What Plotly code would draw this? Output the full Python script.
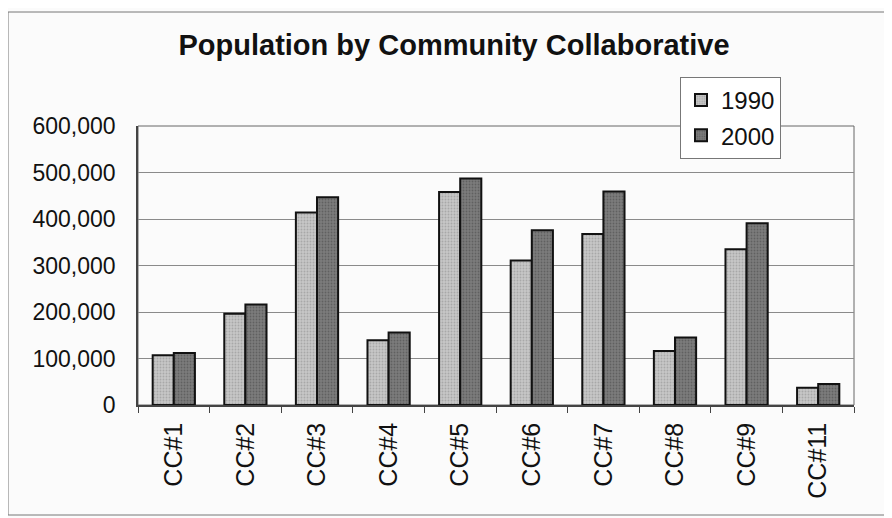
import plotly.graph_objects as go

categories = ["CC#1", "CC#2", "CC#3", "CC#4", "CC#5", "CC#6", "CC#7", "CC#8", "CC#9", "CC#11"]
pop_1990 = [107000, 196000, 414000, 139000, 458000, 311000, 368000, 116000, 335000, 37000]
pop_2000 = [112000, 216000, 447000, 156000, 487000, 376000, 459000, 145000, 391000, 45000]
y_ticks = [0, 100000, 200000, 300000, 400000, 500000, 600000]

FONT = "Liberation Sans, Arial, sans-serif"

# page body has an 8px default margin; plot area target: x 138..854, y 126..405
L, T = 130, 118
PW, PH = 716, 279

fig = go.Figure()
fig.add_trace(go.Bar(
    x=categories, y=pop_1990, name="1990", legendgroup="a",
    marker=dict(color="#c6c6c6", line=dict(color="#111111", width=2),
                pattern=dict(shape=".", fgcolor="#8a8a8a", size=3, solidity=0.3)),
))
fig.add_trace(go.Bar(
    x=categories, y=pop_2000, name="2000", legendgroup="b",
    marker=dict(color="#7c7c7c", line=dict(color="#111111", width=2),
                pattern=dict(shape=".", fgcolor="#444444", size=3, solidity=0.3)),
))

fig.update_layout(
    width=892, height=518,
    margin=dict(l=L, r=892 - L - PW, t=T, b=518 - T - PH),
    paper_bgcolor="#fbfbfb",
    plot_bgcolor="#fbfbfb",
    barmode="group",
    bargap=0.41,
    bargroupgap=0.0,
    showlegend=True,
    font=dict(family=FONT, color="#111111"),
    title=dict(
        text="<b>Population by Community Collaborative</b>",
        font=dict(family=FONT, size=29, color="#111111"),
        x=(454 - 138) / PW, xanchor="center", xref="paper",
        y=1 - 37 / 518, yanchor="middle", yref="container",
    ),
    legend=dict(
        x=(680 - 138) / PW, xanchor="left", y=(405 - 77) / PH, yanchor="top",
        bgcolor="#ffffff", bordercolor="#777777", borderwidth=1,
        font=dict(family=FONT, size=24, color="#111111"),
        tracegroupgap=1,
    ),
    xaxis=dict(
        type="category",
        tickangle=-90,
        tickfont=dict(family=FONT, size=25, color="#111111"),
        showline=True, linecolor="#444444", linewidth=1.5,
        ticks="outside", tickson="boundaries", ticklen=6, tickcolor="#444444",
        ticklabelstandoff=6,
        showgrid=False,
        mirror=False,
    ),
    yaxis=dict(
        range=[0, 600000],
        tickvals=y_ticks,
        tickformat=",d",
        tickfont=dict(family=FONT, size=23, color="#111111"),
        ticklabelstandoff=16,
        showgrid=True, gridcolor="#8a8a8a", gridwidth=1,
        showline=True, linecolor="#444444", linewidth=1.5,
        ticks="", zeroline=False,
    ),
    shapes=[
        dict(type="rect", xref="paper", yref="paper", x0=0, x1=1, y0=0, y1=1,
             line=dict(color="#666666", width=1), fillcolor="rgba(0,0,0,0)", layer="below"),
        dict(type="rect", xref="paper", yref="paper",
             x0=(8 - 138) / PW, x1=(898 - 138) / PW, y0=(405 - 515) / PH, y1=(405 - 12) / PH,
             line=dict(color="#777777", width=1), fillcolor="rgba(0,0,0,0)"),
    ],
)

fig.write_html("out.html")
